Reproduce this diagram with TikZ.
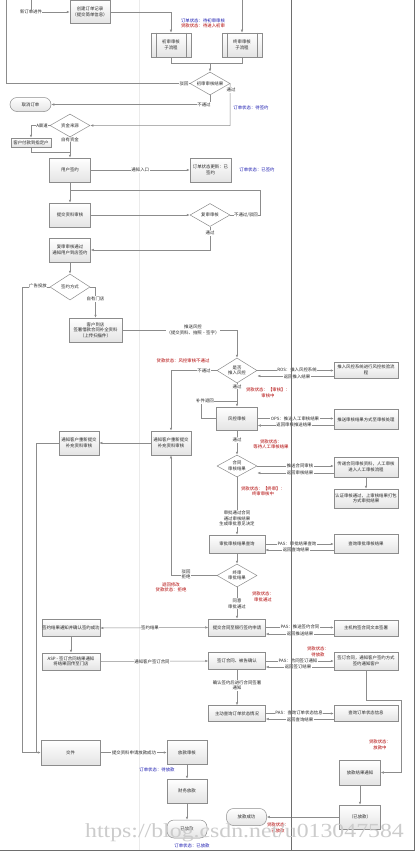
\documentclass[tikz,border=0pt]{standalone}
\usepackage{fontspec}
\setmainfont{Noto Sans CJK SC}
\newfontfamily\wmfont{Liberation Serif}
\usetikzlibrary{shapes.geometric,arrows.meta}
\definecolor{ln}{HTML}{8C8C8C}
\definecolor{lane}{HTML}{6E6E6E}
\definecolor{lanelight}{HTML}{EBEBEB}
\definecolor{bx}{HTML}{8C8C8C}
\definecolor{bfill}{HTML}{E4E4E4}
\definecolor{tblue}{HTML}{1A1AB0}
\definecolor{tred}{HTML}{B00000}
\definecolor{txt}{HTML}{262626}
\tikzset{
 conn/.style={draw=ln, line width=0.5pt},
 arr/.style={conn, -{Latex[length=3pt,width=2.4pt]}},
 dbl/.style={conn, {Latex[length=3pt,width=2.4pt]}-{Latex[length=3pt,width=2.4pt]}},
 tx/.style={font=\fontsize{4.4}{5.6}\selectfont, text=txt, align=center, inner sep=0pt},
 wh/.style 2 args={minimum width=#1, minimum height=#2},
 box/.style={tx, rectangle, draw=bx, line width=0.5pt, top color=white, bottom color=bfill},
 term/.style={box, rounded corners=7pt},
 dia/.style={tx, diamond, draw=bx, line width=0.5pt, fill=white, aspect=1.75},
 lbl/.style={tx, fill=white, inner sep=0.6pt},
 rlbl/.style={tx, text=tred},
 blbl/.style={tx, text=tblue},
 inner/.style={draw=bx, line width=0.5pt},
}
\begin{document}
\begin{tikzpicture}[x=1pt,y=-1pt]
\useasboundingbox (0,0) rectangle (415,851);
\fill[white] (0,0) rectangle (415,851);
\draw[draw=lanelight, line width=0.8pt] (139,0) -- (139,850);

% ---------- nodes ----------
\node[tx] (t0) at (31,12) {新订单进件};
\node[box, wh={40pt}{23pt}] (b1) at (90,12) {创建订单记录\\（提交简单信息）};
\node[box, wh={40pt}{24pt}] (b2) at (171,45) {初审审核\\子流程};
\node[box, wh={40pt}{24pt}] (b3) at (242,45) {终审审核\\子流程};
\foreach \n in {b2,b3}{
  \draw[inner] ([xshift=5pt]\n.north west) -- ([xshift=5pt]\n.south west);
  \draw[inner] ([xshift=-5pt]\n.north east) -- ([xshift=-5pt]\n.south east);
}
\node[blbl] at (203,20.5) {订单状态：待初审审核};
\node[rlbl] at (203,25.8) {贷款状态：待进入初审};
\node[dia, wh={40pt}{23pt}] (d1) at (210,83.5) {初审审核结果};
\node[term, wh={41pt}{14pt}] (e1) at (30.5,104.5) {取消订单};
\node[blbl] at (251,108) {订单状态：待签约};
\node[dia, wh={40pt}{23pt}] (d2) at (70,125.5) {资金来源};
\node[box, wh={40pt}{9pt}] (s1) at (31,142.5) {客户付款到指定户};
\node[box, wh={41pt}{24pt}] (b4) at (70,170) {用户签约};
\node[box, wh={41pt}{24pt}] (b5) at (210.5,170) {订单状态更新：已\\签约};
\node[blbl] at (257,170) {订单状态：已签约};
\node[box, wh={41pt}{24pt}] (b6) at (70,215) {提交资料审核};
\node[dia, wh={40pt}{23pt}] (d3) at (210,215) {复审审核};
\node[box, wh={41pt}{24pt}] (b7) at (70,250) {复审审核通过\\通知用户到店签约};
\node[dia, wh={40pt}{26pt}] (d4) at (70,287) {签约方式};
\node[box, wh={53pt}{24pt}] (b8) at (95.5,330) {客户到店\\签署借款合同补全资料\\（上传扫描件）};
\node[dia, wh={40pt}{25pt}] (d5) at (237,370.5) {是否\\推入风控};
\node[box, wh={64pt}{16pt}] (r1) at (366,370) {推入风控系统进行风控校验流\\程};
\node[box, wh={41pt}{23pt}] (b9) at (237,418.5) {风控审核};
\node[box, wh={64pt}{20pt}] (r2) at (366,419.5) {推送审核结果方式至审核处理};
\node[box, wh={40pt}{24pt}] (l2) at (171,443) {通知客户重新提交\\补充资料审核};
\node[box, wh={40pt}{24pt}] (l1) at (79,443) {通知客户重新提交\\补充资料审核};
\node[dia, wh={40pt}{22pt}] (d6) at (237,466) {合同\\审核结果};
\node[box, wh={64pt}{20pt}] (r3) at (366,467) {传递合同审核资料，人工审核\\进入人工审核流程};
\node[box, wh={64pt}{19pt}] (r4) at (366,498.5) {认证审核通过，上审核结果打包\\方式审批结果};
\node[box, wh={56pt}{18pt}] (b10) at (237,544) {审批审核结果查询};
\node[box, wh={64pt}{19pt}] (r5) at (366,544) {查询审批审核结果};
\node[dia, wh={40pt}{23pt}] (d7) at (237,575.5) {终审\\审批结果};
\node[box, wh={57pt}{17pt}] (b11) at (237,627.5) {提交合同至银行签约申请};
\node[box, wh={64pt}{16pt}] (r6) at (366,628) {主机构签合同文本签署};
\node[box, wh={58pt}{17pt}] (l3) at (71,628) {签约结果通知并确认签约成功};
\node[box, wh={58pt}{17pt}] (l4) at (71,661.5) {ASP - 签订合同结果通知\\将结果回传至门店};
\node[box, wh={57pt}{17pt}] (b12) at (237,661) {签订合同、被告确认};
\node[box, wh={64pt}{18pt}] (r7) at (366,661) {签订合同，通知客户签约方式\\签约通知客户};
\node[box, wh={57pt}{16pt}] (b13) at (237,713.5) {主动查询订单状态情况};
\node[box, wh={64pt}{16pt}] (r8) at (366,713) {查询订单状态信息};
\node[box, wh={59pt}{25pt}] (bl) at (70.5,752.5) {交件};
\node[box, wh={40pt}{24pt}] (c1b) at (187,752.5) {放款审核};
\node[box, wh={40pt}{24pt}] (c2b) at (187,791) {财务放款};
\node[term, wh={40pt}{18pt}] (e2) at (187,829) {已放款};
\node[box, wh={41pt}{25pt}] (r9) at (360,772.5) {放款结果通知};
\node[box, wh={41pt}{24pt}] (r10) at (360,817) {（已放款）};
\node[term, wh={40pt}{17pt}] (e3) at (246.5,817) {放款成功};

% ---------- connectors ----------
\coordinate (top1) at (31,0);
\coordinate (top2) at (242,0);
\coordinate (top3) at (6,0);
\draw[conn] (top1) -- (t0.north);
\draw[arr] (t0.east) -- (b1.west);
\draw[arr] (b1.east) -| (b2.north);
\draw[arr] (top2) -- (b3.north);
\draw[conn] (b2.south) -- ++(0,6) -| (b3.south);
\coordinate (m1) at (210,63);
\draw[arr] (m1) -- (d1.north);
\draw[conn] (d1.west) -- (6,83.5) -- (top3);
\node[lbl] at (184,83.5) {驳回};
\draw[arr] (d1.east) -- (230,125.5) -- (d2.east);
\node[lbl] at (231,90) {通过};
\draw[arr] (d1.south) |- (e1.east);
\node[lbl] at (204,104.5) {不通过};
\draw[arr] (d2.west) -| (s1.north);
\node[lbl] at (42,125.5) {A渠道};
\draw[arr] (d2.south) -- (b4.north);
\node[lbl] at (70,139.5) {自有资金};
\draw[conn] (s1.south) |- (70,152);
\draw[arr] (b4.east) -- node[lbl]{通知入口} (b5.west);
\draw[arr] (b4.south) -- (b6.north);
\draw[arr] (b6.east) -- (d3.west);
\draw[conn] (d3.east) -- (260,215) |- (70,190);
\node[lbl] at (246,215) {不通过/驳回};
\draw[arr] (d3.south) |- (b7.east);
\node[lbl] at (210,233) {通过};
\draw[arr] (b7.south) -- (d4.north);
\draw[arr] (d4.west) -- (22,287) |- (bl.west);
\node[lbl] at (38,286) {广告投放};
\draw[conn] (l1.west) -| (36,752.5);
\draw[arr] (d4.east) -| (b8.north);
\node[lbl] at (95.5,299) {自有门店};
\draw[arr] (b8.east) -| (d5.north);
\node[lbl] at (193,330) {推送风控\\（提交资料、拍照·签字）};
\draw[arr] (d5.west) -| (l2.north);
\node[lbl] at (204,370.5) {不通过};
\node[rlbl] at (183,361) {贷款状态：风控审核不通过};
% d5 <-> r1
\draw[arr] (d5.east) -- (d5.east -| r1.west);
\coordinate (r1b) at ([yshift=-6pt]r1.west);
\draw[arr] (r1b) -- (r1b -| d5.east);
\node[lbl] at (297,369.5) {ROS：推入风控系统};
\node[lbl] at (297,376.5) {返回推入结果};
\draw[arr] (d5.south) -- (b9.north);
\node[lbl] at (237,386.5) {通过};
\node[rlbl] at (268,393) {贷款状态：【审核】：\\审核中};
\draw[conn] (b9.west) -- (201,418.5) |- (237,401);
\node[lbl] at (205,401) {补件退回};
% b9 <-> r2
\draw[arr] (b9.east) -- (b9.east -| r2.west);
\coordinate (r2b) at ([yshift=-6pt]r2.west);
\draw[arr] (r2b) -- (r2b -| b9.east);
\node[lbl] at (295,418.5) {OPS：推送人工审核结果};
\node[lbl] at (294,425) {返回审核推送结果};
\draw[arr] (b9.south) -- (d6.north);
\node[lbl] at (237,440) {通过};
\node[rlbl] at (271,444.5) {贷款状态：\\等待人工审核结果};
% d6 <-> r3
\draw[arr] (d6.east) -- (d6.east -| r3.west);
\coordinate (r3b) at ([yshift=-6pt]r3.west);
\draw[arr] (r3b) -- (r3b -| d6.east);
\node[lbl] at (300,466) {推送合同审核};
\node[lbl] at (300,472.5) {返回审核结果};
\draw[arr] (r3.south) -- (r4.north);
\draw[arr] (d6.south) -- (b10.north);
\node[rlbl] at (263,491.5) {贷款状态：【终审】：\\终审审核中};
\node[lbl] at (237,518.5) {审批通过合同\\通过审核结果\\生成审批意见决定};
% b10 <-> r5
\draw[arr] (b10.east) -- (b10.east -| r5.west);
\coordinate (r5b) at ([yshift=-6pt]r5.west);
\draw[arr] (r5b) -- (r5b -| b10.east);
\node[lbl] at (297,543.5) {PAS：审批结果查询};
\node[lbl] at (296,550) {返回查询结果};
\draw[arr] (b10.south) -- (d7.north);
\draw[arr] (d7.west) -| (l2.south);
\node[lbl] at (186,574.5) {驳回\\拒绝};
\node[rlbl] at (171,587.5) {退回修改\\贷款状态：拒绝};
\draw[arr] (d7.south) -- (b11.north);
\node[lbl] at (237,603.5) {同意\\审批通过};
\node[rlbl] at (263,597) {贷款状态：\\审批通过};
\draw[arr] (l2.west) -- (l1.east);
\draw[dbl] (b11.west) -- (l3.east);
\node[lbl] at (150,627.5) {签约结果};
% b11 <-> r6
\draw[arr] (b11.east) -- (b11.east -| r6.west);
\coordinate (r6b) at ([yshift=-6pt]r6.west);
\draw[arr] (r6b) -- (r6b -| b11.east);
\node[lbl] at (300,627) {PAS：推送签约合同};
\node[lbl] at (300,633.5) {返回推送结果};
\draw[arr] (l3.south) -- (l4.north);
\draw[arr] (l4.east) -- (b12.west);
\node[lbl] at (152,661.5) {通知客户签订合同};
% b12 <-> r7
\draw[arr] (b12.east) -- (b12.east -| r7.west);
\coordinate (r7b) at ([yshift=-6pt]r7.west);
\draw[arr] (r7b) -- (r7b -| b12.east);
\node[lbl] at (298,660.5) {PAS：合同签订通知};
\node[lbl] at (298,667) {返回签订结果};
\node[rlbl] at (318,652) {贷款状态：\\待放款};
\draw[arr] (r7.south) -- (366,700) -- (401,700) |- (r9.east);
\draw[arr] (b12.south) -- (b13.north);
\node[lbl] at (237,685.5) {确认签约后进行合同签署\\通知};
% b13 <-> r8
\draw[arr] (b13.east) -- (b13.east -| r8.west);
\coordinate (r8b) at ([yshift=-6pt]r8.west);
\draw[arr] (r8b) -- (r8b -| b13.east);
\node[lbl] at (299,713) {PAS：查询订单状态信息};
\node[lbl] at (300,719.5) {返回查询结果};
\node[rlbl] at (380,745) {贷款状态：\\放款中};
\draw[arr] (r9.south) -- (r10.north);
\draw[arr] (r10.west) -- (e3.east);
\node[rlbl] at (278,828) {贷款状态：\\已放款};
\draw[arr] (bl.east) -- (c1b.west);
\node[lbl] at (134,752.5) {提交资料申请放款成功};
\node[blbl] at (157,770) {订单状态：待放款};
\draw[arr] (c1b.south) -- (c2b.north);
\draw[arr] (c2b.south) -- (e2.north);
\node[blbl] at (192,846) {订单状态：已放款};

% ---------- lanes ----------
\draw[draw=lane, line width=1pt] (291,0) -- (291,850);
\draw[draw=lane, line width=1pt] (414,0) -- (414,850);
\draw[draw=lane, line width=1pt] (0,850) -- (414.5,850);

% ---------- watermark ----------
\node[text=gray!40, font=\wmfont\fontsize{20}{20}\selectfont, inner sep=0pt, anchor=base west] (wm) at (85,837) {\scalebox{1.19}[1]{https://blog.csdn.net/u013047584}};
\end{tikzpicture}
\end{document}
